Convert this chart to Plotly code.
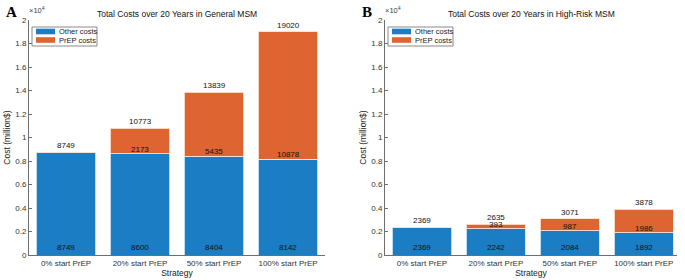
import plotly.graph_objects as go

categories = ["0% start PrEP", "20% start PrEP", "50% start PrEP", "100% start PrEP"]
general_other = [8749, 8600, 8404, 8142]
general_prep = [0, 2173, 5435, 10878]
general_total = [8749, 10773, 13839, 19020]
highrisk_other = [2369, 2242, 2084, 1892]
highrisk_prep = [0, 393, 987, 1986]
highrisk_total = [2369, 2635, 3071, 3878]
ytick_vals = [0, 2000, 4000, 6000, 8000, 10000, 12000, 14000, 16000, 18000, 20000]
ytick_text = ["0", "0.2", "0.4", "0.6", "0.8", "1", "1.2", "1.4", "1.6", "1.8", "2"]
titles = ["Total Costs over 20 Years in General MSM", "Total Costs over 20 Years in High-Risk MSM"]
panel_letters = ["A", "B"]
series_names = ["Other costs", "PrEP costs"]

BLUE = "#1b7dc4"
ORANGE = "#de6431"
FONT = "Liberation Sans, Arial, sans-serif"
W, H = 685, 280

fig = go.Figure()

panels = [
    (general_other, general_prep, general_total, "x", "y"),
    (highrisk_other, highrisk_prep, highrisk_total, "x2", "y2"),
]

for other, prep, total, xa, ya in panels:
    fig.add_trace(go.Bar(x=categories, y=other, name=series_names[0],
                         marker=dict(color=BLUE, line=dict(color="rgba(210,230,245,0.9)", width=1)),
                         xaxis=xa, yaxis=ya, width=0.8, showlegend=False))
    fig.add_trace(go.Bar(x=categories, y=prep, name=series_names[1],
                         marker=dict(color=ORANGE, line=dict(color="rgba(250,225,210,0.9)", width=1)),
                         xaxis=xa, yaxis=ya, width=0.8, showlegend=False))
    for i, c in enumerate(categories):
        fig.add_annotation(x=c, y=total[i], xref=xa, yref=ya, text=str(total[i]), showarrow=False,
                           yanchor="bottom", yshift=0, font=dict(size=8, color="#111", family=FONT))
        fig.add_annotation(x=c, y=0, xref=xa, yref=ya, text=str(other[i]), showarrow=False,
                           yanchor="bottom", yshift=1, font=dict(size=8, color="#111", family=FONT))
        if prep[i] > 0:
            fig.add_annotation(x=c, y=other[i], xref=xa, yref=ya, text=str(prep[i]), showarrow=False,
                               yanchor="bottom", yshift=-2, font=dict(size=8, color="#111", family=FONT))

axis_common = dict(showline=True, linecolor="#6e6e6e", linewidth=1, mirror=False, showgrid=False, zeroline=False,
                   automargin=False, tickfont=dict(size=8, color="#333", family=FONT))

dA = [29 / W, 325 / W]
dB = [385 / W, 677 / W]
dy = [(H - 255) / H, (H - 20) / H]

fig.update_layout(
    width=W, height=H, margin=dict(l=0, r=0, t=0, b=0, autoexpand=False),
    paper_bgcolor="white", plot_bgcolor="white",
    barmode="stack", font=dict(family=FONT, color="#222"),
    showlegend=False,
    xaxis=dict(domain=dA, anchor="y", range=[-0.5, 3.5], ticks="",
               title=dict(text="Strategy", font=dict(size=8.5, family=FONT), standoff=0), **axis_common),
    yaxis=dict(domain=dy, anchor="x", range=[0, 20000], tickvals=ytick_vals, ticktext=ytick_text, ticks="inside",
               ticklen=3, tickcolor="#6e6e6e",
               title=dict(text="Cost (million$)", font=dict(size=8.5, family=FONT), standoff=3), **axis_common),
    xaxis2=dict(domain=dB, anchor="y2", range=[-0.5, 3.45], ticks="",
                title=dict(text="Strategy", font=dict(size=8.5, family=FONT), standoff=0), **axis_common),
    yaxis2=dict(domain=dy, anchor="x2", range=[0, 20000], tickvals=ytick_vals, ticktext=ytick_text, ticks="inside",
                ticklen=3, tickcolor="#6e6e6e",
                title=dict(text="Cost (million$)", font=dict(size=8.5, family=FONT), standoff=3), **axis_common),
)

legend_x0 = [32, 388]
for k, (d, t, letter) in enumerate(zip([dA, dB], titles, panel_letters)):
    cx = (d[0] + d[1]) / 2
    fig.add_annotation(x=cx, y=(H - 14) / H, xref="paper", yref="paper", text=t, showarrow=False,
                       xanchor="center", yanchor="middle", font=dict(size=8.5, color="#111", family=FONT))
    fig.add_annotation(x=d[0] - 2 / W, y=(H - 17) / H, xref="paper", yref="paper", text="×10<sup>4</sup>", showarrow=False,
                       xanchor="left", yanchor="bottom", font=dict(size=7.5, color="#444", family=FONT))
    fig.add_annotation(x=(d[0] * W - 25) / W, y=(H - 2) / H, xref="paper", yref="paper", text="<b>" + letter + "</b>",
                       showarrow=False, xanchor="left", yanchor="top",
                       font=dict(size=15, color="#000", family="Liberation Serif, Times New Roman, serif"))
    lx = legend_x0[k]
    fig.add_shape(type="rect", xref="paper", yref="paper", x0=lx / W, x1=(lx + 65) / W,
                  y0=(H - 46) / H, y1=(H - 27) / H, line=dict(color="#8a8a8a", width=1), fillcolor="white")
    for j, (nm, col) in enumerate(zip(series_names, [BLUE, ORANGE])):
        yc = 31.5 + j * 8.5
        fig.add_shape(type="rect", xref="paper", yref="paper", x0=(lx + 4) / W, x1=(lx + 23) / W,
                      y0=(H - yc - 2.8) / H, y1=(H - yc + 2.8) / H, line=dict(width=0), fillcolor=col)
        fig.add_annotation(x=(lx + 25) / W, y=(H - yc) / H, xref="paper", yref="paper", text=nm, showarrow=False,
                           xanchor="left", yanchor="middle", font=dict(size=7.5, color="#222", family=FONT))

fig.write_html("out.html", config={"displayModeBar": False},
               post_script="document.body.style.margin='0';document.body.style.overflow='hidden';")
